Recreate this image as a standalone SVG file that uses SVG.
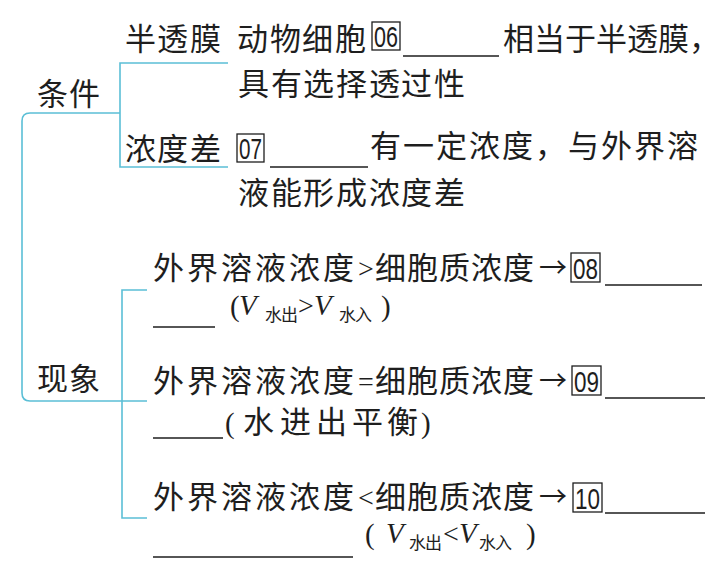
<svg xmlns="http://www.w3.org/2000/svg" width="727" height="566" viewBox="0 0 727 566">
<style>
.t{font-family:"Noto Sans CJK SC","Noto Sans",sans-serif;font-size:31px;fill:#1e1e1e}
.p{font-family:"Liberation Serif",serif;font-size:29px;fill:#1e1e1e}
.s{font-family:"Noto Sans CJK SC","Noto Sans",sans-serif;font-size:17px}
.l{font-family:"Liberation Serif",serif;font-size:28px}
.v{font-family:"Liberation Serif",serif;font-size:29px;font-style:italic}
.a{font-family:"Noto Sans CJK SC",sans-serif;font-size:28px}
.n{font-family:"Liberation Sans",sans-serif;font-size:30px;fill:#1e1e1e}
.box{fill:none;stroke:#1e1e1e;stroke-width:1.3}
.blank{stroke:#1e1e1e;stroke-width:1.5}
.conn{fill:none;stroke:#5bbfd6;stroke-width:1.6}
</style>
<rect width="727" height="566" fill="#ffffff"/>
<g id="connectors">
<path class="conn" d="M120 113 H30 Q22 113 22 121 V393 Q22 401 30 401 H147"/>
<path class="conn" d="M228 63 H120 V167 H228"/>
<path class="conn" d="M147 290 H122 V518 H147"/>
</g>
<g id="tiaojian">
<text class="t" x="37 69" y="105">条件</text>
</g>
<g id="bantoumo">
<text class="t" x="125 157 190" y="50">半透膜</text>
<text class="t" x="237 270 302 335" y="50">动物细胞</text>
<rect class="box" x="372" y="22" width="28" height="28"/>
<text class="n" x="374" y="47" textLength="24" lengthAdjust="spacingAndGlyphs">06</text>
<line class="blank" x1="403" y1="56" x2="499" y2="56"/>
<text class="t" x="503 534 565 596 627 658 689" y="50">相当于半透膜，</text>
<text class="t" x="238 271 303 336 369 401 434" y="95">具有选择透过性</text>
</g>
<g id="nongducha">
<text class="t" x="125 157 190" y="160">浓度差</text>
<rect class="box" x="237" y="134" width="27" height="28"/>
<text class="n" x="239" y="159" textLength="23" lengthAdjust="spacingAndGlyphs">07</text>
<line class="blank" x1="270" y1="167" x2="368" y2="167"/>
<text class="t" x="370 403 436 469 502 535 568 601 634 667" y="157">有一定浓度，与外界溶</text>
<text class="t" x="238 271 303 336 369 401 434" y="204">液能形成浓度差</text>
</g>
<g id="xianxiang">
<text class="t" x="37 69" y="390">现象</text>
</g>
<g id="row1">
<text class="t" y="279"><tspan x="153 187 221 255 289 323">外界溶液浓度</tspan><tspan class="l" x="358" y="278">&gt;</tspan><tspan x="375 407 439 471 503" y="279">细胞质浓度</tspan><tspan class="a" x="539" y="278">→</tspan></text>
<rect class="box" x="571" y="253" width="29" height="29"/>
<text class="n" x="573" y="279" textLength="25" lengthAdjust="spacingAndGlyphs">08</text>
<line class="blank" x1="605" y1="285" x2="702" y2="285"/>
<text class="p" y="316"><tspan x="230">(</tspan><tspan class="v" x="239" y="315">V</tspan><tspan class="s" x="265 281" y="321">水出</tspan><tspan class="l" x="298" y="315">&gt;</tspan><tspan class="v" x="314" y="315">V</tspan><tspan class="s" x="339 355" y="321">水入</tspan><tspan x="381" y="316">)</tspan></text>
<line class="blank" x1="153" y1="327" x2="215" y2="327"/>
</g>
<g id="row2">
<text class="t" y="392"><tspan x="153 187 221 255 289 323">外界溶液浓度</tspan><tspan class="l" x="358" y="391">=</tspan><tspan x="375 407 439 471 503" y="392">细胞质浓度</tspan><tspan class="a" x="539" y="391">→</tspan></text>
<rect class="box" x="572" y="366" width="29" height="29"/>
<text class="n" x="574" y="392" textLength="25" lengthAdjust="spacingAndGlyphs">09</text>
<line class="blank" x1="605" y1="398" x2="705" y2="398"/>
<text class="t" y="433"><tspan class="p" x="225">(</tspan><tspan x="243 280 316 352 387">水进出平衡</tspan><tspan class="p" x="421">)</tspan></text>
<line class="blank" x1="153" y1="438" x2="223" y2="438"/>
</g>
<g id="row3">
<text class="t" y="508"><tspan x="153 187 221 255 289 323">外界溶液浓度</tspan><tspan class="l" x="358" y="507">&lt;</tspan><tspan x="375 407 439 471 503" y="508">细胞质浓度</tspan><tspan class="a" x="539" y="507">→</tspan></text>
<rect class="box" x="573" y="483" width="29" height="29"/>
<text class="n" x="575" y="509" textLength="25" lengthAdjust="spacingAndGlyphs">10</text>
<line class="blank" x1="605" y1="513" x2="705" y2="513"/>
<text class="p" y="544"><tspan x="365">(</tspan><tspan class="v" x="386" y="543">V</tspan><tspan class="s" x="409 425" y="549">水出</tspan><tspan class="l" x="443" y="543">&lt;</tspan><tspan class="v" x="459" y="543">V</tspan><tspan class="s" x="479 495" y="549">水入</tspan><tspan x="526" y="544">)</tspan></text>
<line class="blank" x1="153" y1="557" x2="353" y2="557"/>
</g>
</svg>
